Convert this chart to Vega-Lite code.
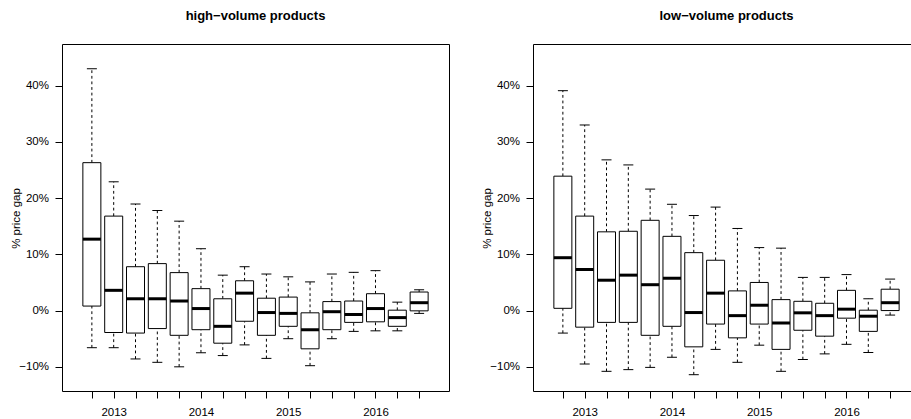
{
  "$schema": "https://vega.github.io/schema/vega-lite/v6.json",
  "padding": {"left": 9, "top": 9, "right": 0, "bottom": 0},
  "datasets": {
    "high": [
      {"q": 1, "lo": -0.066, "q1": 0.008, "med": 0.127, "q3": 0.263, "hi": 0.430},
      {"q": 2, "lo": -0.066, "q1": -0.039, "med": 0.036, "q3": 0.168, "hi": 0.229},
      {"q": 3, "lo": -0.086, "q1": -0.040, "med": 0.021, "q3": 0.078, "hi": 0.1895},
      {"q": 4, "lo": -0.092, "q1": -0.032, "med": 0.021, "q3": 0.0835, "hi": 0.178},
      {"q": 5, "lo": -0.100, "q1": -0.044, "med": 0.017, "q3": 0.0675, "hi": 0.159},
      {"q": 6, "lo": -0.075, "q1": -0.034, "med": 0.0036, "q3": 0.039, "hi": 0.110},
      {"q": 7, "lo": -0.080, "q1": -0.058, "med": -0.028, "q3": 0.021, "hi": 0.063},
      {"q": 8, "lo": -0.061, "q1": -0.019, "med": 0.031, "q3": 0.053, "hi": 0.078},
      {"q": 9, "lo": -0.085, "q1": -0.044, "med": -0.0035, "q3": 0.022, "hi": 0.065},
      {"q": 10, "lo": -0.050, "q1": -0.028, "med": -0.005, "q3": 0.024, "hi": 0.060},
      {"q": 11, "lo": -0.098, "q1": -0.068, "med": -0.034, "q3": -0.004, "hi": 0.051},
      {"q": 12, "lo": -0.050, "q1": -0.034, "med": -0.002, "q3": 0.016, "hi": 0.065},
      {"q": 13, "lo": -0.037, "q1": -0.021, "med": -0.007, "q3": 0.017, "hi": 0.068},
      {"q": 14, "lo": -0.036, "q1": -0.020, "med": 0.0036, "q3": 0.030, "hi": 0.071},
      {"q": 15, "lo": -0.036, "q1": -0.028, "med": -0.0125, "q3": 0.0007, "hi": 0.015},
      {"q": 16, "lo": -0.005, "q1": -0.0005, "med": 0.014, "q3": 0.033, "hi": 0.037}
    ],
    "low": [
      {"q": 1, "lo": -0.040, "q1": 0.004, "med": 0.094, "q3": 0.239, "hi": 0.391},
      {"q": 2, "lo": -0.095, "q1": -0.0295, "med": 0.073, "q3": 0.168, "hi": 0.330},
      {"q": 3, "lo": -0.108, "q1": -0.021, "med": 0.054, "q3": 0.140, "hi": 0.268},
      {"q": 4, "lo": -0.105, "q1": -0.021, "med": 0.063, "q3": 0.141, "hi": 0.259},
      {"q": 5, "lo": -0.101, "q1": -0.044, "med": 0.046, "q3": 0.1605, "hi": 0.216},
      {"q": 6, "lo": -0.083, "q1": -0.028, "med": 0.0575, "q3": 0.132, "hi": 0.189},
      {"q": 7, "lo": -0.114, "q1": -0.0645, "med": -0.0035, "q3": 0.103, "hi": 0.169},
      {"q": 8, "lo": -0.069, "q1": -0.024, "med": 0.031, "q3": 0.0895, "hi": 0.184},
      {"q": 9, "lo": -0.092, "q1": -0.0485, "med": -0.009, "q3": 0.035, "hi": 0.146},
      {"q": 10, "lo": -0.0615, "q1": -0.024, "med": 0.0095, "q3": 0.050, "hi": 0.112},
      {"q": 11, "lo": -0.108, "q1": -0.069, "med": -0.022, "q3": 0.0195, "hi": 0.111},
      {"q": 12, "lo": -0.087, "q1": -0.035, "med": -0.004, "q3": 0.0165, "hi": 0.059},
      {"q": 13, "lo": -0.077, "q1": -0.0455, "med": -0.009, "q3": 0.013, "hi": 0.059},
      {"q": 14, "lo": -0.060, "q1": -0.0135, "med": 0.0025, "q3": 0.036, "hi": 0.064},
      {"q": 15, "lo": -0.0745, "q1": -0.037, "med": -0.010, "q3": 0.0007, "hi": 0.021},
      {"q": 16, "lo": -0.008, "q1": 0.000, "med": 0.014, "q3": 0.038, "hi": 0.056}
    ]
  },
  "spacing": 84,
  "bounds": "flush",
  "hconcat": [
    {
      "title": {"text": "high−volume products"},
      "width": 387,
      "height": 347,
      "data": {"name": "high"},
      "encoding": {
        "x": {
          "field": "q", "type": "quantitative", "title": null,
          "scale": {"domain": [-0.14, 17.14], "nice": false, "zero": false},
          "axis": {
            "values": [1, 2, 3, 4, 5, 6, 7, 8, 9, 10, 11, 12, 13, 14, 15, 16],
            "labelExpr": "datum.value == 2 ? '2013' : datum.value == 6 ? '2014' : datum.value == 10 ? '2015' : datum.value == 14 ? '2016' : ''"
          }
        }
      },
      "layer": [
        {"mark": {"type": "rule", "color": "black", "strokeDash": [2.8, 2.8]},
         "encoding": {"y": {"field": "lo", "type": "quantitative", "title": "% price gap",
           "scale": {"domain": [-0.143, 0.474], "nice": false, "zero": false},
           "axis": {"values": [-0.1, 0, 0.1, 0.2, 0.3, 0.4], "format": ".0%"}},
           "y2": {"field": "q1"}}},
        {"mark": {"type": "rule", "color": "black", "strokeDash": [2.8, 2.8]},
         "encoding": {"y": {"field": "q3", "type": "quantitative", "title": "% price gap"}, "y2": {"field": "hi"}}},
        {"mark": {"type": "tick", "orient": "horizontal", "color": "black", "opacity": 1, "size": 10, "thickness": 1},
         "encoding": {"y": {"field": "lo", "type": "quantitative", "title": "% price gap"}}},
        {"mark": {"type": "tick", "orient": "horizontal", "color": "black", "opacity": 1, "size": 10, "thickness": 1},
         "encoding": {"y": {"field": "hi", "type": "quantitative", "title": "% price gap"}}},
        {"mark": {"type": "bar", "width": 18, "fill": "white", "stroke": "black", "strokeWidth": 1, "opacity": 1},
         "encoding": {"y": {"field": "q1", "type": "quantitative", "title": "% price gap"}, "y2": {"field": "q3"}}},
        {"mark": {"type": "tick", "orient": "horizontal", "color": "black", "opacity": 1, "size": 18, "thickness": 3},
         "encoding": {"y": {"field": "med", "type": "quantitative", "title": "% price gap"}}}
      ]
    },
    {
      "title": {"text": "low−volume products"},
      "width": 387,
      "height": 347,
      "data": {"name": "low"},
      "encoding": {
        "x": {
          "field": "q", "type": "quantitative", "title": null,
          "scale": {"domain": [-0.14, 17.14], "nice": false, "zero": false},
          "axis": {
            "values": [1, 2, 3, 4, 5, 6, 7, 8, 9, 10, 11, 12, 13, 14, 15, 16],
            "labelExpr": "datum.value == 2 ? '2013' : datum.value == 6 ? '2014' : datum.value == 10 ? '2015' : datum.value == 14 ? '2016' : ''"
          }
        }
      },
      "layer": [
        {"mark": {"type": "rule", "color": "black", "strokeDash": [2.8, 2.8]},
         "encoding": {"y": {"field": "lo", "type": "quantitative", "title": "% price gap",
           "scale": {"domain": [-0.143, 0.474], "nice": false, "zero": false},
           "axis": {"values": [-0.1, 0, 0.1, 0.2, 0.3, 0.4], "format": ".0%"}},
           "y2": {"field": "q1"}}},
        {"mark": {"type": "rule", "color": "black", "strokeDash": [2.8, 2.8]},
         "encoding": {"y": {"field": "q3", "type": "quantitative", "title": "% price gap"}, "y2": {"field": "hi"}}},
        {"mark": {"type": "tick", "orient": "horizontal", "color": "black", "opacity": 1, "size": 10, "thickness": 1},
         "encoding": {"y": {"field": "lo", "type": "quantitative", "title": "% price gap"}}},
        {"mark": {"type": "tick", "orient": "horizontal", "color": "black", "opacity": 1, "size": 10, "thickness": 1},
         "encoding": {"y": {"field": "hi", "type": "quantitative", "title": "% price gap"}}},
        {"mark": {"type": "bar", "width": 18, "fill": "white", "stroke": "black", "strokeWidth": 1, "opacity": 1},
         "encoding": {"y": {"field": "q1", "type": "quantitative", "title": "% price gap"}, "y2": {"field": "q3"}}},
        {"mark": {"type": "tick", "orient": "horizontal", "color": "black", "opacity": 1, "size": 18, "thickness": 3},
         "encoding": {"y": {"field": "med", "type": "quantitative", "title": "% price gap"}}}
      ]
    }
  ],
  "config": {
    "font": "Liberation Sans",
    "background": "white",
    "view": {"stroke": "black", "strokeWidth": 1},
    "axis": {
      "grid": false,
      "domain": false,
      "ticks": true,
      "tickColor": "black",
      "tickSize": 7,
      "labelColor": "black",
      "labelFontSize": 11.5,
      "labelFlush": false,
      "labelOverlap": false,
      "labelBound": false,
      "titleColor": "black",
      "titleFontSize": 11.5,
      "titleFontWeight": "normal"
    },
    "axisX": {"labelPadding": 8},
    "axisY": {"labelPadding": 6.5, "titleX": -46, "titleY": 174, "titleBaseline": "middle", "titleAngle": 270},
    "title": {"fontSize": 13, "fontWeight": "bold", "color": "black", "anchor": "middle", "frame": "group", "baseline": "alphabetic", "offset": 21}
  }
}
